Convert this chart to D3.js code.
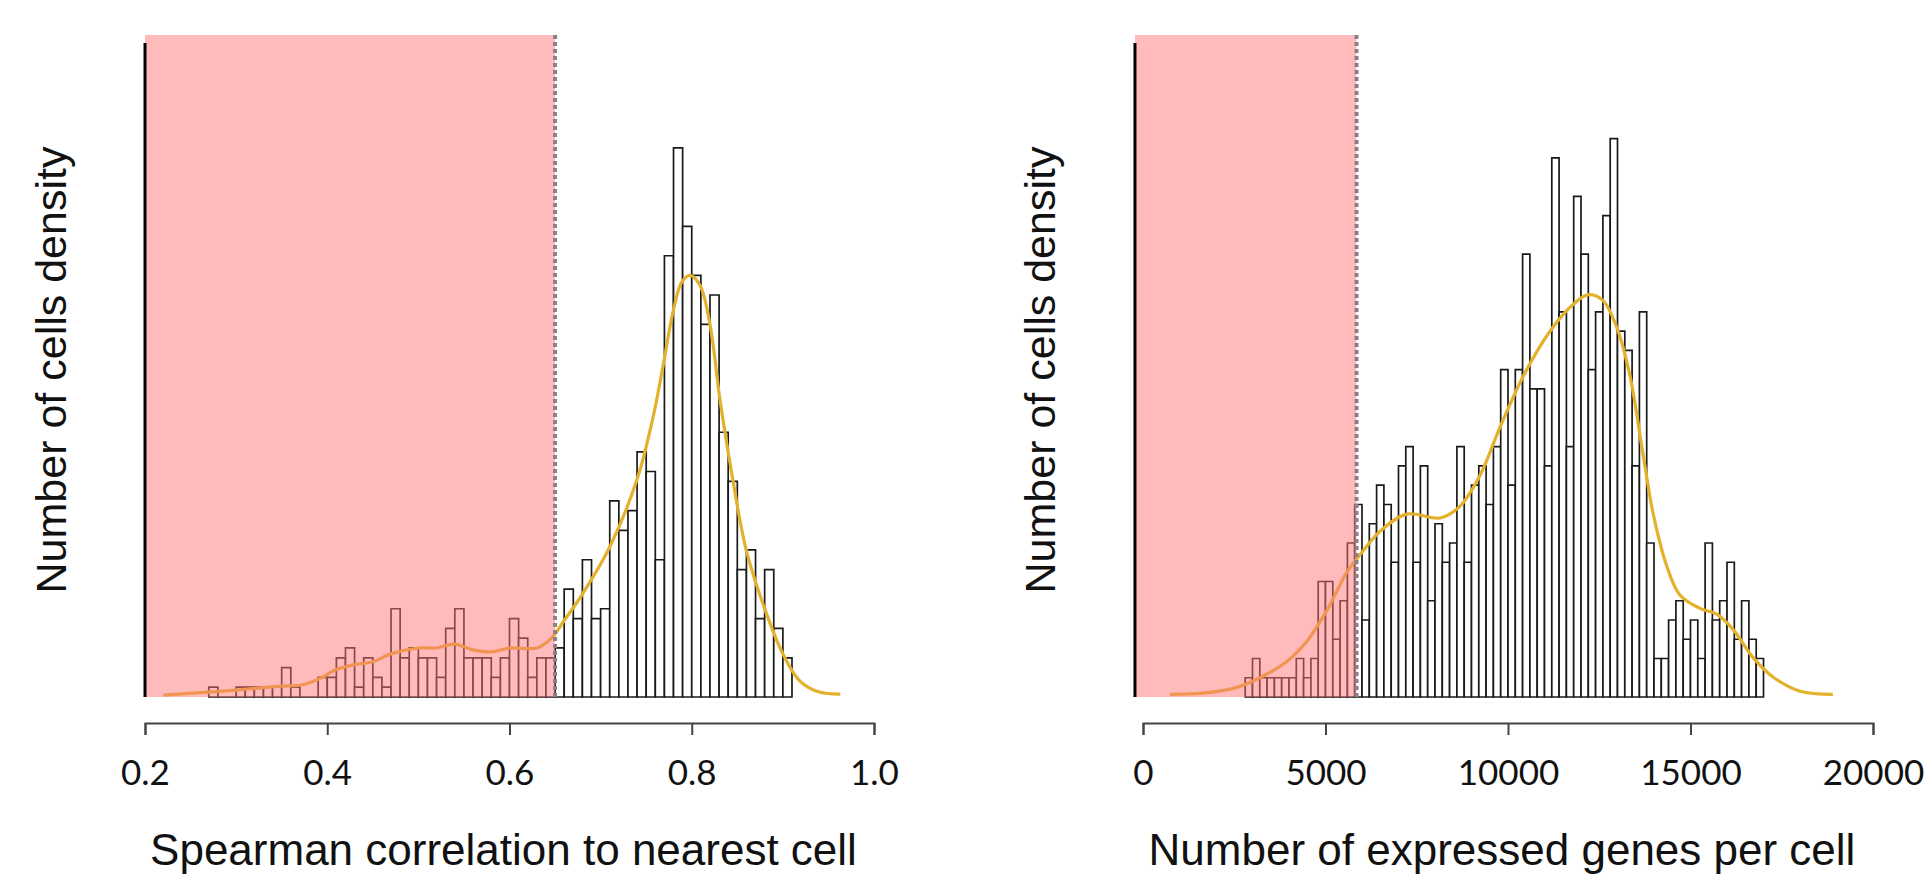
<!DOCTYPE html>
<html>
<head>
<meta charset="utf-8">
<script src="https://cdn.jsdelivr.net/npm/d3@7"></script>
<style>
  body { margin: 0; background: #fff; }
  svg { display: block; }
</style>
</head>
<body>
<div id="chart"></div>
<script>
const width = 1931;
const height = 882;

// left panel: spearman correlation histogram (bin width 0.01, first bin at 0.27)
const corrBinStart = 0.27;
const corrBinWidth = 0.01;
const corrCounts = [
  1, 0, 0, 1, 1, 1, 1, 1, 3, 1,
  0, 0, 2, 2, 4, 5, 1, 4, 2, 1,
  9, 4, 5, 4, 4, 2, 7, 9, 4, 4,
  4, 2, 4, 8, 6, 2, 4, 4, 5, 11,
  8, 14, 8, 9, 20, 17, 19, 25, 23, 14,
  45, 56, 48, 43, 38, 41, 27, 22, 13, 15,
  8, 13, 7, 4
];
const corrDensity = [
  [0.22, 0.2], [0.27, 0.5], [0.30, 0.7], [0.35, 1.1], [0.37, 1.2], [0.39, 1.8],
  [0.41, 2.8], [0.43, 3.3], [0.45, 3.6], [0.47, 4.4], [0.50, 5.0], [0.52, 5.0],
  [0.54, 5.4], [0.56, 4.8], [0.58, 4.6], [0.60, 5.0], [0.63, 5.0], [0.645, 5.9],
  [0.66, 7.8], [0.68, 10.5], [0.71, 15.3], [0.74, 22.2], [0.757, 28.3], [0.768, 33.5],
  [0.78, 39.5], [0.789, 42.3], [0.798, 43], [0.809, 42], [0.82, 38], [0.831, 30.3],
  [0.845, 22.2], [0.86, 14.9], [0.882, 8.5], [0.90, 4.4], [0.919, 1.6], [0.94, 0.5],
  [0.963, 0.3]
];
const corrTicks = [0.2, 0.4, 0.6, 0.8, 1.0];
const corrCutoff = 0.65;

// right panel: number of expressed genes (bin width 200, first bin at 2800)
const geneBinStart = 2800;
const geneBinWidth = 200;
const geneCounts = [
  1, 2, 1, 1, 1, 1, 1, 2, 1, 2,
  6, 6, 3, 5, 8, 10, 4, 9, 11, 10,
  7, 12, 13, 7, 12, 5, 9, 7, 8, 13,
  7, 11, 12, 10, 13, 17, 11, 17, 23, 16,
  16, 12, 28, 20, 13, 26, 23, 17, 20, 25,
  29, 19, 18, 12, 20, 8, 2, 2, 4, 5,
  3, 4, 2, 8, 4, 5, 7, 3, 5, 3,
  2
];
const geneDensity = [
  [740, 0.14], [1640, 0.2], [2570, 0.5], [3200, 1.0], [3940, 1.85], [4490, 2.9],
  [5040, 4.5], [5590, 6.5], [5950, 7.4], [6490, 8.6], [7230, 9.5], [8140, 9.3],
  [8680, 9.9], [9230, 11.5], [9780, 14.0], [10400, 16.6], [11150, 19.0], [11790, 20.4],
  [12200, 20.9], [12600, 20.6], [12980, 19.2], [13340, 16.7], [13700, 12.6], [13980, 9.5],
  [14350, 6.8], [14710, 5.3], [15260, 4.6], [15720, 4.3], [16170, 3.5], [16710, 2.06],
  [17260, 1.04], [18000, 0.3], [18900, 0.14]
];
const geneTicks = [0, 5000, 10000, 15000, 20000];
const geneCutoff = 5850;

const panels = [
  {
    counts: corrCounts, binStart: corrBinStart, binWidth: corrBinWidth,
    density: corrDensity, ticks: corrTicks, cutoff: corrCutoff,
    domain: [0.2, 1.0], range: [145, 874], yAxisAt: 0.2, yTop: 66.7,
    fmt: d3.format(".1f"), label: "Spearman correlation to nearest cell",
    ylabelX: 66
  },
  {
    counts: geneCounts, binStart: geneBinStart, binWidth: geneBinWidth,
    density: geneDensity, ticks: geneTicks, cutoff: geneCutoff,
    domain: [0, 20000], range: [1143, 1873], yAxisAt: -220, yTop: 33.97,
    fmt: d3.format("d"), label: "Number of expressed genes per cell",
    ylabelX: 1055
  }
];

const svg = d3.select("#chart").append("svg")
  .attr("width", width)
  .attr("height", height);

const baseY = 697;
const topY = 43;
const axisY = 723;

panels.forEach((p) => {
  const x = d3.scaleLinear().domain(p.domain).range(p.range);
  const y = d3.scaleLinear().domain([0, p.yTop]).range([baseY, topY]);
  const g = svg.append("g");

  // histogram bars
  const bins = p.counts.map((c, i) => ({
    x0: p.binStart + i * p.binWidth,
    x1: p.binStart + (i + 1) * p.binWidth,
    c: c
  }));
  g.selectAll("path.bar")
    .data(bins)
    .join("path")
    .attr("class", "bar")
    .attr("d", (d) => {
      const path = d3.path();
      path.moveTo(x(d.x0), y(0));
      path.lineTo(x(d.x0), y(d.c));
      path.lineTo(x(d.x1), y(d.c));
      path.lineTo(x(d.x1), y(0));
      path.closePath();
      return path.toString();
    })
    .attr("fill", "#fff")
    .attr("stroke", "#1a1a1a")
    .attr("stroke-width", 1.7);

  // density curve
  const line = d3.line()
    .x((d) => x(d[0]))
    .y((d) => y(d[1]))
    .curve(d3.curveCatmullRom);
  g.append("path")
    .datum(p.density)
    .attr("d", line)
    .attr("fill", "none")
    .attr("stroke", "#e3b12c")
    .attr("stroke-width", 3.2);

  // shaded (filtered) region
  g.append("rect")
    .attr("x", x(p.yAxisAt))
    .attr("y", y(p.yTop) - 8)
    .attr("width", x(p.cutoff) - x(p.yAxisAt))
    .attr("height", y(0) - y(p.yTop) + 8)
    .attr("fill", "rgb(255,120,120)")
    .attr("fill-opacity", 0.5);

  // cutoff line
  g.append("line")
    .attr("x1", x(p.cutoff)).attr("x2", x(p.cutoff))
    .attr("y1", y(p.yTop) - 8).attr("y2", y(0))
    .attr("stroke", "#8c8088")
    .attr("stroke-width", 4)
    .attr("stroke-dasharray", "4,3");

  // y axis line only
  g.append("line")
    .attr("x1", x(p.yAxisAt)).attr("x2", x(p.yAxisAt))
    .attr("y1", y(p.yTop)).attr("y2", y(0))
    .attr("stroke", "#000")
    .attr("stroke-width", 3);

  // x axis
  const ax = g.append("g")
    .attr("transform", `translate(0,${axisY})`)
    .call(d3.axisBottom(x).tickValues(p.ticks).tickFormat(p.fmt)
      .tickSize(12).tickSizeOuter(12).tickPadding(25));
  ax.select(".domain").attr("stroke", "#444").attr("stroke-width", 2);
  ax.selectAll(".tick line").attr("stroke", "#444").attr("stroke-width", 2);
  ax.selectAll(".tick text")
    .attr("fill", "#111")
    .style("font-family", "Lato, 'Open Sans', sans-serif")
    .style("font-size", "35px");

  // x title
  g.append("text")
    .attr("x", (p.range[0] + p.range[1]) / 2 - 6)
    .attr("y", 865)
    .attr("text-anchor", "middle")
    .style("font-family", "'Liberation Sans', Arial, sans-serif")
    .style("font-size", "44px")
    .attr("fill", "#111")
    .text(p.label);

  // y title
  g.append("text")
    .attr("transform", `translate(${p.ylabelX},370) rotate(-90)`)
    .attr("text-anchor", "middle")
    .style("font-family", "'Liberation Sans', Arial, sans-serif")
    .style("font-size", "43px")
    .attr("fill", "#111")
    .text("Number of cells density");
});
</script>
</body>
</html>
